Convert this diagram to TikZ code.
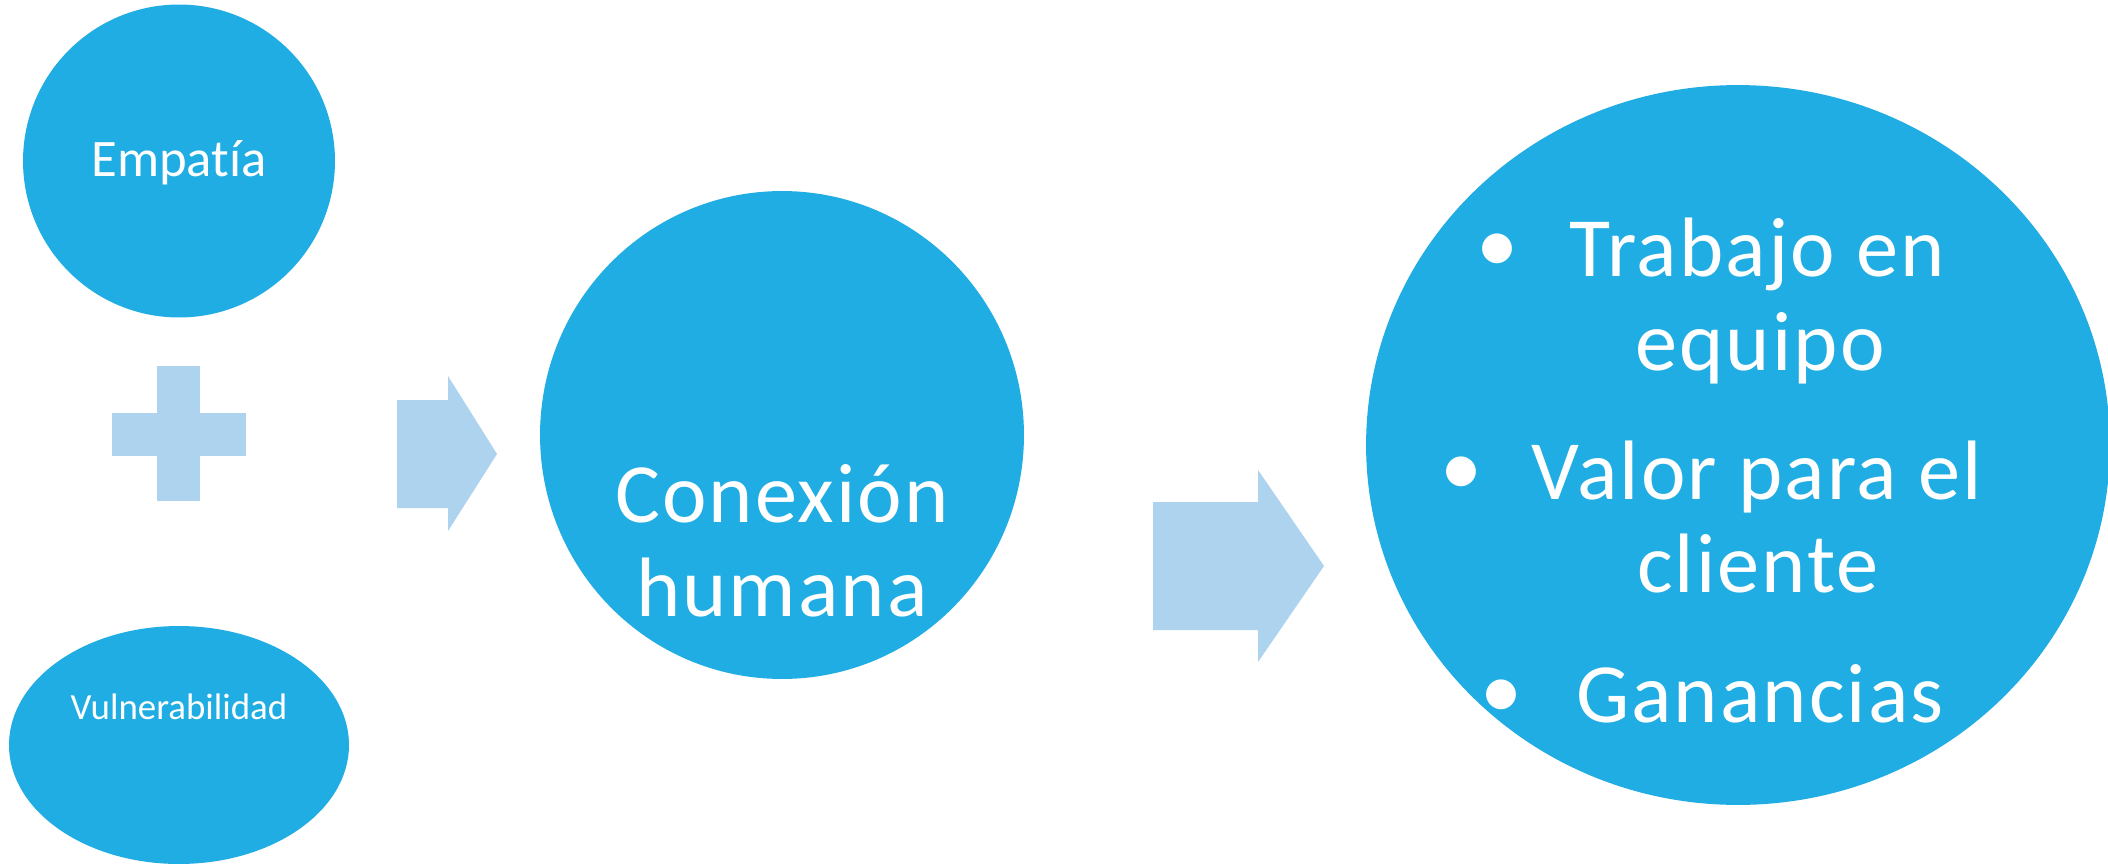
\documentclass[tikz,border=0pt]{standalone}
\usepackage{fontspec}
\setmainfont{Carlito}[Ligatures=NoCommon]
\newfontfamily\bigfam{Carlito}[Ligatures=NoCommon, LetterSpace=2.5]
\usetikzlibrary{shapes.geometric}
\definecolor{cblue}{RGB}{31,173,227}
\definecolor{lblue}{RGB}{174,211,238}
\begin{document}
\begin{tikzpicture}[x=0.02cm,y=-0.02cm,
  bubble/.style={ellipse, fill=cblue, draw=none, inner sep=0pt},
  lbl/.style={text=white, anchor=base, inner sep=0pt},
  bigtxt/.style={lbl, font=\bigfam\fontsize{48}{53}\selectfont},
  blockshape/.style={fill=lblue, draw=none}]
\useasboundingbox (0,0) rectangle (2108,865);
\fill[white] (0,0) rectangle (2108,865);
% bubbles
\node[bubble, minimum width=6.24cm, minimum height=6.26cm] (emp) at (179,161) {};
\node[bubble, minimum width=6.80cm, minimum height=4.76cm] (vul) at (179,745) {};
\node[bubble, minimum width=9.68cm, minimum height=9.76cm] (con) at (782,435) {};
\node[bubble, minimum width=14.88cm, minimum height=14.40cm] (res) at (1738,445) {};
% plus sign
\fill[blockshape] (157,366) rectangle (200,501);
\fill[blockshape] (112,413) rectangle (246,456);
% block arrows
\fill[blockshape] (397,400) -- (448,400) -- (448,376) -- (497,454) -- (448,531) -- (448,508) -- (397,508) -- cycle;
\fill[blockshape] (1153,502) -- (1258,502) -- (1258,470) -- (1324,566) -- (1258,662) -- (1258,630) -- (1153,630) -- cycle;
% texts
\node[lbl, font=\fontsize{30}{36}\selectfont] (empt) at (179,176) {Empatía};
\node[lbl, font=\fontsize{21}{25}\selectfont] (vult) at (179,719) {Vulnerabilidad};
\node[bigtxt] (con1) at (782,522) {Conexión};
\node[bigtxt] (con2) at (782,616) {humana};
\node[bigtxt] (r1) at (1757,276) {Trabajo en};
\node[bigtxt] (r2) at (1760,370) {equipo};
\node[bigtxt] (r3) at (1757,499) {Valor para el};
\node[bigtxt] (r4) at (1758,592) {cliente};
\node[bigtxt] (r5) at (1760,722) {Ganancias};
\node[bigtxt] (b1) at (1497,272) {•};
\node[bigtxt] (b2) at (1461,495) {•};
\node[bigtxt] (b3) at (1501,718) {•};
\end{tikzpicture}
\end{document}
